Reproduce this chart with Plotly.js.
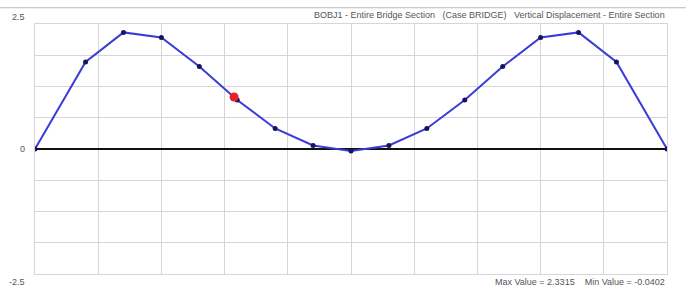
<!DOCTYPE html>
<html><head><meta charset="utf-8">
<script src="https://cdn.plot.ly/plotly-3.0.1.min.js"></script>
<style>html,body{margin:0;padding:0;background:#fff}#chart{width:688px;height:289px}</style>
</head><body><div id="chart"></div>
<script>
const stations = [0, 0.8, 1.4, 2.0, 2.6, 3.2, 3.8, 4.4, 5.0, 5.6, 6.2, 6.8, 7.4, 8.0, 8.6, 9.2, 10];
const displacement = [0, 1.74, 2.3315, 2.23, 1.65, 0.98, 0.41, 0.07, -0.0402, 0.07, 0.41, 0.98, 1.65, 2.23, 2.3315, 1.74, 0];
const cursorX = [3.15];
const cursorY = [1.04];
const yLabels = ["2.5", "0", "-2.5"];
const yLabelVals = [2.5, 0, -2.5];
const titleText = "BOBJ1 - Entire Bridge Section   (Case BRIDGE)   Vertical Displacement - Entire Section";
const footerText = "Max Value = 2.3315    Min Value = -0.0402";

const font = {family: "Arial, Liberation Sans, sans-serif", size: 9, color: "#555"};
const traces = [
  {x: [0, 10], y: [0, 0], mode: "lines", line: {color: "#111", width: 2}, hoverinfo: "skip"},
  {x: stations, y: displacement, mode: "lines+markers",
   line: {color: "#3b3bd6", width: 2}, marker: {color: "#15155a", size: 5}},
  {x: cursorX, y: cursorY, mode: "markers", marker: {color: "#e8202a", size: 9}}
];
const annotations = yLabels.map((t, i) => ({
  text: t, xref: "paper", x: 0, xanchor: "right", xshift: -8,
  yref: "y", y: yLabelVals[i], yanchor: "middle",
  yshift: i === 0 ? 7 : (i === 2 ? -8 : 0),
  showarrow: false, font: font
}));
annotations.push({text: titleText, xref: "paper", x: 1, xanchor: "right", yref: "paper", y: 1, yanchor: "bottom", yshift: 2, showarrow: false, font: font});
annotations.push({text: footerText, xref: "paper", x: 1, xanchor: "right", yref: "paper", y: 0, yanchor: "top", yshift: -1, showarrow: false, font: font});

const layout = {
  width: 688, height: 289,
  margin: {l: 35, r: 21, t: 24, b: 15},
  paper_bgcolor: "#fff", plot_bgcolor: "#fff",
  showlegend: false,
  xaxis: {range: [0, 10], dtick: 1, tick0: 0, showgrid: true, gridcolor: "#d6d6d6", gridwidth: 1,
          showticklabels: false, zeroline: false, showline: true, linecolor: "#d6d6d6", mirror: true, ticks: ""},
  yaxis: {range: [-2.5, 2.5], dtick: 0.625, tick0: 0, showgrid: true, gridcolor: "#d6d6d6", gridwidth: 1,
          showticklabels: false, zeroline: false, showline: true, linecolor: "#d6d6d6", mirror: true, ticks: ""},
  annotations: annotations,
  shapes: [{type: "line", xref: "paper", yref: "paper", x0: -0.06, x1: 1.03, y0: 1.065, y1: 1.065, line: {color: "#bbb", width: 1}}]
};
Plotly.newPlot("chart", traces, layout, {displayModeBar: false, staticPlot: true});
</script></body></html>
